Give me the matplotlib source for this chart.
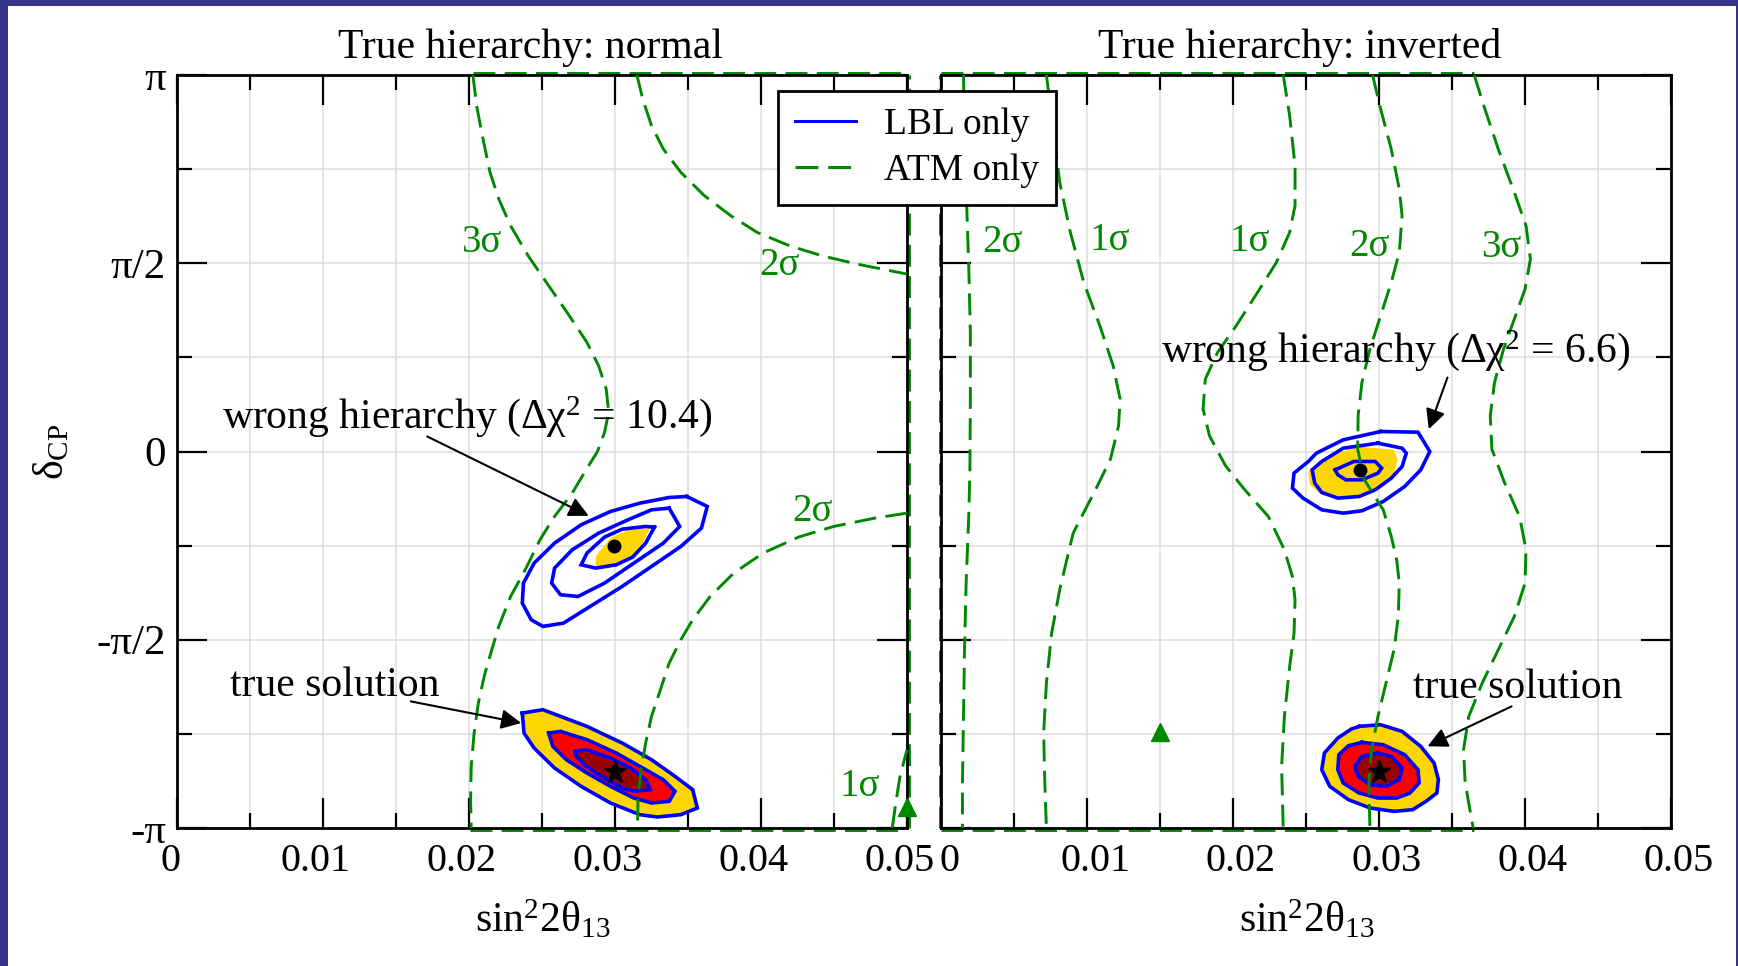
import numpy as np
import matplotlib
matplotlib.use('Agg')
import matplotlib.pyplot as plt
from matplotlib.transforms import ScaledTranslation
from matplotlib.lines import Line2D
from matplotlib.patches import Rectangle

plt.rcParams['font.family'] = ['Liberation Serif', 'DejaVu Serif']
plt.rcParams['mathtext.fontset'] = 'custom'
plt.rcParams['mathtext.rm'] = 'Liberation Serif'
plt.rcParams['mathtext.it'] = 'Liberation Serif:italic'
plt.rcParams['mathtext.bf'] = 'Liberation Serif:bold'

# ---------------- data ----------------
x_ticks = [0, 0.01, 0.02, 0.03, 0.04, 0.05]
x_ticklabels = ['0', '0.01', '0.02', '0.03', '0.04', '0.05']
x_minor = [0.005, 0.015, 0.025, 0.035, 0.045]
y_ticks = [-1, -0.5, 0, 0.5, 1]          # delta_CP in units of pi
y_ticklabels = ['-π', '-π/2', '0', 'π/2', 'π']
y_minor = [-0.75, -0.25, 0.25, 0.75]
titles = ['True hierarchy: normal', 'True hierarchy: inverted']

# ---- normal hierarchy: ATM only (green dashed) ----
nh_atm3_x = [0.02027, 0.02052, 0.02096, 0.02144, 0.02204, 0.02285, 0.02405, 0.02546, 0.02687, 0.02808,
             0.02888, 0.02940, 0.02957, 0.02928, 0.02880, 0.02788, 0.02707, 0.02586, 0.02486, 0.02385,
             0.02285, 0.02204, 0.02156, 0.02104, 0.02064, 0.02035, 0.02015, 0.02011, 0.02015]
nh_atm3_y = [1.0, 0.9185, 0.8299, 0.7414, 0.6705, 0.5996, 0.5199, 0.4402, 0.3605, 0.2896,
             0.2276, 0.1656, 0.1036, 0.0505, 0.0, -0.0575, -0.1106, -0.1726, -0.2345, -0.3142,
             -0.3850, -0.4646, -0.5265, -0.5973, -0.6681, -0.7478, -0.8363, -0.9248, -1.0]
nh_atm2a_x = [0.03150, 0.03190, 0.03250, 0.03331, 0.03451, 0.03612, 0.03793, 0.03974, 0.04195, 0.04417, 0.04658, 0.05]
nh_atm2a_y = [1.0, 0.9362, 0.8654, 0.8034, 0.7414, 0.6794, 0.6262, 0.5819, 0.5465, 0.5199, 0.4978, 0.4712]
nh_atm2b_x = [0.05, 0.04779, 0.04497, 0.04256, 0.04014, 0.03813, 0.03652, 0.03532, 0.03451, 0.03371,
              0.03311, 0.03250, 0.03210, 0.03178, 0.03158, 0.03154]
nh_atm2b_y = [-0.1637, -0.1770, -0.1991, -0.2274, -0.2699, -0.3230, -0.3850, -0.4469, -0.5, -0.5619,
              -0.6327, -0.7035, -0.7743, -0.8451, -0.9159, -1.0]
nh_atm1_x = [0.04899, 0.04923, 0.04952, 0.05]
nh_atm1_y = [-1.0, -0.9336, -0.8628, -0.792]
nh_edge_top = [0.0203, 0.05]
nh_edge_bottom = [0.0201, 0.05]
nh_atm_best = (0.05, -0.945)

# ---- normal hierarchy: LBL only (blue) and combined (filled) ----
nh_wr_out_x = [0.03492, 0.03632, 0.03592, 0.03451, 0.03250, 0.03049, 0.02848, 0.02647, 0.02506,
               0.02426, 0.02365, 0.02373, 0.02446, 0.02586, 0.02768, 0.02969, 0.03170, 0.03371]
nh_wr_out_y = [-0.1195, -0.1460, -0.2035, -0.2522, -0.3053, -0.3584, -0.4071, -0.4558, -0.4646,
               -0.4469, -0.4027, -0.3496, -0.2965, -0.2434, -0.1947, -0.1593, -0.1372, -0.1221]
nh_wr_mid_x = [0.03371, 0.03443, 0.03331, 0.03129, 0.02928, 0.02747, 0.02627, 0.02566, 0.02586,
               0.02707, 0.02888, 0.03089, 0.03250]
nh_wr_mid_y = [-0.1504, -0.1991, -0.2434, -0.2965, -0.3496, -0.3850, -0.3805, -0.3496, -0.3097,
               -0.2611, -0.2168, -0.1814, -0.1549]
nh_wr_in_x = [0.03270, 0.03210, 0.03121, 0.03009, 0.02868, 0.02768, 0.02808, 0.02928, 0.03049, 0.03210]
nh_wr_in_y = [-0.2009, -0.2434, -0.2805, -0.3009, -0.3097, -0.3009, -0.2699, -0.2274, -0.2062, -0.1991]
nh_wr_fill_x = [0.03242, 0.03178, 0.03109, 0.03009, 0.02868, 0.02868, 0.02969, 0.03089]
nh_wr_fill_y = [-0.2035, -0.2522, -0.2805, -0.2991, -0.3071, -0.2788, -0.2301, -0.2080]
nh_tr_out_x = [0.02365, 0.02506, 0.02808, 0.03049, 0.03250, 0.03411, 0.03532, 0.03564, 0.03451,
               0.03290, 0.03170, 0.02969, 0.02768, 0.02586, 0.02446, 0.02377]
nh_tr_out_y = [-0.6947, -0.6858, -0.7301, -0.7743, -0.8186, -0.8628, -0.8982, -0.9469, -0.9646,
               -0.9708, -0.9646, -0.9336, -0.8894, -0.8407, -0.7876, -0.7478]
nh_tr_mid_x = [0.02546, 0.02627, 0.02808, 0.03009, 0.03190, 0.03331, 0.03411, 0.03371, 0.03250,
               0.03129, 0.02969, 0.02808, 0.02667, 0.02574]
nh_tr_mid_y = [-0.7478, -0.7434, -0.7655, -0.8009, -0.8407, -0.8717, -0.9027, -0.9292, -0.9336,
               -0.9204, -0.8894, -0.8540, -0.8186, -0.7832]
nh_tr_in_x = [0.02727, 0.02808, 0.02969, 0.03109, 0.03210, 0.03242, 0.03129, 0.03049, 0.02888, 0.02788, 0.02735]
nh_tr_in_y = [-0.7965, -0.7920, -0.8142, -0.8407, -0.8717, -0.8982, -0.9027, -0.8938, -0.8584, -0.8319, -0.8097]
nh_wrong_best = (0.0299, -0.252)
nh_true_best = (0.0300, -0.850)

# ---- inverted hierarchy: ATM only (green dashed) ----
ih_atm_a_x = [0.00154, 0.00161, 0.00176, 0.00190, 0.00201, 0.00201, 0.00198, 0.00190, 0.00172, 0.00161, 0.00154, 0.00147, 0.00147]
ih_atm_a_y = [1.0, 0.848, 0.653, 0.493, 0.316, 0.139, -0.05, -0.173, -0.350, -0.527, -0.704, -0.881, -1.0]
ih_atm_b_x = [0.00722, 0.00758, 0.00813, 0.00886, 0.00978, 0.01088, 0.01179, 0.01227, 0.01216, 0.01161,
              0.01060, 0.00905, 0.00813, 0.00758, 0.00722, 0.00703, 0.00711, 0.00722]
ih_atm_b_y = [1.0, 0.892, 0.715, 0.582, 0.449, 0.334, 0.228, 0.139, 0.068, -0.020,
              -0.100, -0.217, -0.367, -0.482, -0.615, -0.748, -0.880, -1.0]
ih_atm_c_x = [0.02344, 0.02388, 0.02425, 0.02425, 0.02388, 0.02297, 0.02168, 0.02022, 0.01894, 0.01810,
              0.01795, 0.01839, 0.01949, 0.02077, 0.02242, 0.02352, 0.02407, 0.02425, 0.02418, 0.02388,
              0.02352, 0.02333, 0.02344]
ih_atm_c_y = [1.0, 0.892, 0.759, 0.653, 0.582, 0.502, 0.4225, 0.334, 0.263, 0.192,
              0.1125, 0.0416, -0.038, -0.100, -0.1726, -0.261, -0.332, -0.394, -0.483, -0.571,
              -0.7035, -0.836, -1.0]
ih_atm_d_x = [0.02956, 0.03011, 0.03084, 0.03139, 0.03158, 0.03139, 0.03084, 0.03011, 0.02938, 0.02883,
              0.02857, 0.02854, 0.02900, 0.03029, 0.03084, 0.03121, 0.03139, 0.03132, 0.03103, 0.03048,
              0.02993, 0.02949, 0.02930, 0.02938]
ih_atm_d_y = [1.0, 0.910, 0.803, 0.697, 0.626, 0.529, 0.449, 0.3605, 0.272, 0.1833,
              0.0948, 0.006, -0.075, -0.155, -0.2257, -0.2876, -0.3496, -0.438, -0.5265, -0.615,
              -0.7035, -0.792, -0.8805, -1.0]
ih_atm_e_x = [0.03652, 0.03725, 0.03817, 0.03927, 0.04007, 0.04037, 0.04000, 0.03927, 0.03853, 0.03791,
              0.03762, 0.03773, 0.03860, 0.03963, 0.04007, 0.04000, 0.03927, 0.03817, 0.03707, 0.03615,
              0.03579, 0.03590, 0.03645]
ih_atm_e_y = [1.0, 0.910, 0.803, 0.688, 0.600, 0.511, 0.431, 0.352, 0.272, 0.183,
              0.095, 0.006, -0.083, -0.173, -0.261, -0.350, -0.438, -0.5265, -0.615, -0.7035,
              -0.792, -0.880, -1.0]
ih_edge_top = [0.0, 0.0365]
ih_edge_bottom = [0.0, 0.0365]
ih_atm_best = (0.0150, -0.745)

# ---- inverted hierarchy: LBL only (blue) and combined (filled) ----
ih_wr_out_x = [0.03011, 0.03267, 0.03348, 0.03286, 0.03176, 0.03029, 0.02883, 0.02755, 0.02608, 0.02480,
               0.02407, 0.02418, 0.02516, 0.02571, 0.02755]
ih_wr_out_y = [0.0531, 0.0513, 0.0, -0.0487, -0.0929, -0.1327, -0.1575, -0.1637, -0.1549, -0.1239,
               -0.0973, -0.0575, -0.0265, -0.0044, 0.031]
ih_wr_mid_x = [0.02993, 0.03158, 0.03187, 0.03158, 0.03084, 0.02974, 0.02864, 0.02718, 0.02608, 0.02560,
               0.02542, 0.02608, 0.02755]
ih_wr_mid_y = [0.0221, 0.0088, -0.0044, -0.0398, -0.0708, -0.1018, -0.1195, -0.1239, -0.1088, -0.0841,
               -0.0487, -0.0265, 0.0088]
ih_wr_in_x = [0.02700, 0.02828, 0.02974, 0.03018, 0.02993, 0.02883, 0.02773, 0.02718]
ih_wr_in_y = [-0.0487, -0.0265, -0.0265, -0.0442, -0.0575, -0.0752, -0.0752, -0.0619]
ih_wr_fill_x = [0.02864, 0.03103, 0.03128, 0.03103, 0.03011, 0.02901, 0.02755, 0.02608, 0.02527, 0.02516, 0.02590, 0.02718]
ih_wr_fill_y = [0.0133, 0.0044, -0.0221, -0.0575, -0.0885, -0.1150, -0.1265, -0.1150, -0.0885, -0.0531, -0.0265, -0.0044]
ih_tr_out_x = [0.02864, 0.03011, 0.03158, 0.03286, 0.03377, 0.03407, 0.03396, 0.03322, 0.03231, 0.03103,
               0.02938, 0.02791, 0.02663, 0.02608, 0.02626, 0.02718, 0.02810]
ih_tr_out_y = [-0.7301, -0.7257, -0.7434, -0.7832, -0.8274, -0.8717, -0.9071, -0.9292, -0.9513, -0.9558,
               -0.9469, -0.9248, -0.8894, -0.8451, -0.8009, -0.7611, -0.7372]
ih_tr_mid_x = [0.02883, 0.03029, 0.03176, 0.03267, 0.03275, 0.03212, 0.03121, 0.02993, 0.02864, 0.02755,
               0.02718, 0.02725, 0.02791]
ih_tr_mid_y = [-0.7726, -0.7788, -0.8053, -0.8451, -0.8805, -0.9071, -0.9204, -0.9204, -0.9071, -0.8805,
               -0.8451, -0.8053, -0.7814]
ih_tr_in_x = [0.02993, 0.03084, 0.03158, 0.03139, 0.03048, 0.02938, 0.02857, 0.02835, 0.02883]
ih_tr_in_y = [-0.8009, -0.8097, -0.8407, -0.8717, -0.8894, -0.8850, -0.8628, -0.8363, -0.8097]
ih_wrong_best = (0.0287, -0.050)
ih_true_best = (0.0300, -0.851)

# ---- contour labels ----
nh_sigma_labels = [('3σ', 0.02084, 0.555), ('2σ', 0.04127, 0.493), ('2σ', 0.04356, -0.159), ('1σ', 0.04678, -0.889)]
ih_sigma_labels = [('2σ', 0.00421, 0.555), ('1σ', 0.01154, 0.560), ('1σ', 0.02114, 0.557),
                   ('2σ', 0.02938, 0.545), ('3σ', 0.03835, 0.542)]

# ---- annotations: (text, text_x, text_baseline_y, arrow_start, arrow_tip) ----
nh_notes = [('wrong hierarchy (Δχ$^{2}$ = 10.4)', 0.00306, 0.062, (0.01714, 0.0399), (0.0282, -0.1708)),
            ('true solution', 0.00362, -0.650, (0.01601, -0.6637), (0.02357, -0.7212))]
ih_notes = [('wrong hierarchy (Δχ$^{2}$ = 6.6)', 0.01509, 0.2365, (0.03469, 0.1966), (0.03341, 0.0593)),
            ('true solution', 0.03231, -0.6549, (0.03908, -0.677), (0.03333, -0.783))]

# ---------------- style ----------------
BLUE = '#0000ff'
GREEN = '#008800'
YELLOW = '#ffd700'
RED = '#ff0000'
DRED = '#9a0000'
FRAME = '#36348a'
DASH = (7.5, 3.2)
GLW = 2.1
BLW = 2.6

W, H = 1738, 966
fig = plt.figure(figsize=(W / 100, H / 100), dpi=100)

# outer dark-blue frame
fig.add_artist(Rectangle((0, 1 - 6 / H), 1, 6 / H, transform=fig.transFigure, color=FRAME, lw=0, zorder=0))
fig.add_artist(Rectangle((0, 0), 8 / W, 1, transform=fig.transFigure, color=FRAME, lw=0, zorder=0))
fig.add_artist(Rectangle((1 - 2 / W, 0), 2 / W, 1, transform=fig.transFigure, color=FRAME, lw=0, zorder=0))

axL = fig.add_axes([177 / W, 138 / H, 730 / W, 753 / H])
axR = fig.add_axes([941 / W, 138 / H, 730 / W, 753 / H])


def px(dx, dy):
    return ScaledTranslation(dx / 100, dy / 100, fig.dpi_scale_trans)


def style(ax, show_ylabels, label_dx):
    ax.set_xlim(0, 0.05)
    ax.set_ylim(-1, 1)
    ax.set_xticks(x_ticks)
    ax.set_xticklabels(x_ticklabels)
    ax.set_xticks(x_minor, minor=True)
    ax.set_yticks(y_ticks)
    ax.set_yticklabels(y_ticklabels if show_ylabels else [])
    ax.set_yticks(y_minor, minor=True)
    ax.tick_params(which='both', direction='in', top=True, right=True, width=1.6, color='black')
    ax.tick_params(which='major', length=21.6)
    ax.tick_params(which='minor', length=10.8)
    ax.tick_params(axis='x', which='major', pad=11, labelsize=29)
    ax.tick_params(axis='y', which='major', pad=8, labelsize=31)
    ax.grid(True, which='both', color='#dcdcdc', lw=1.1)
    ax.set_axisbelow(True)
    for s in ax.spines.values():
        s.set_linewidth(2.0)
        s.set_zorder(2.5)
    for lab in ax.get_xticklabels():
        lab.set_transform(lab.get_transform() + px(label_dx, 0))


style(axL, True, -7)
style(axR, False, 8)


def green(ax, x, y, trans=None):
    kw = dict(color=GREEN, lw=GLW, dashes=DASH, zorder=4, clip_on=False)
    if trans is not None:
        kw['transform'] = trans
        kw['zorder'] = 2.4
    ax.plot(x, y, **kw)


def blob(ax, x, y, fill=None, line=True):
    if fill is not None:
        ax.fill(x, y, color=fill, lw=0, zorder=2)
    if line:
        ax.plot(list(x) + [x[0]], list(y) + [y[0]], color=BLUE, lw=BLW, zorder=3, solid_joinstyle='miter')


# ---- left panel ----
blob(axL, nh_wr_fill_x, nh_wr_fill_y, fill=YELLOW, line=False)
blob(axL, nh_wr_out_x, nh_wr_out_y)
blob(axL, nh_wr_mid_x, nh_wr_mid_y)
blob(axL, nh_wr_in_x, nh_wr_in_y)
blob(axL, nh_tr_out_x, nh_tr_out_y, fill=YELLOW)
blob(axL, nh_tr_mid_x, nh_tr_mid_y, fill=RED)
blob(axL, nh_tr_in_x, nh_tr_in_y, fill=DRED)

green(axL, nh_atm3_x, nh_atm3_y)
green(axL, nh_atm2a_x, nh_atm2a_y)
green(axL, nh_atm2b_x, nh_atm2b_y)
green(axL, nh_atm1_x, nh_atm1_y)
green(axL, nh_edge_top, [1, 1], axL.transData + px(0, 2))
green(axL, nh_edge_bottom, [-1, -1], axL.transData + px(0, -2))
green(axL, [0.05, 0.05], [-1, 1], axL.transData + px(1.5, 0))

axL.plot(*nh_atm_best, marker='^', ms=13, color=GREEN, ls='none', zorder=6, clip_on=False)
axL.plot(*nh_wrong_best, marker='o', ms=9, color='black', ls='none', zorder=6)
axL.plot(*nh_true_best, marker='*', ms=17, color='black', ls='none', zorder=6)

# ---- right panel ----
blob(axR, ih_wr_fill_x, ih_wr_fill_y, fill=YELLOW, line=False)
blob(axR, ih_wr_out_x, ih_wr_out_y)
blob(axR, ih_wr_mid_x, ih_wr_mid_y)
blob(axR, ih_wr_in_x, ih_wr_in_y)
blob(axR, ih_tr_out_x, ih_tr_out_y, fill=YELLOW)
blob(axR, ih_tr_mid_x, ih_tr_mid_y, fill=RED)
blob(axR, ih_tr_in_x, ih_tr_in_y, fill=DRED)

for gx, gy in [(ih_atm_a_x, ih_atm_a_y), (ih_atm_b_x, ih_atm_b_y), (ih_atm_c_x, ih_atm_c_y),
               (ih_atm_d_x, ih_atm_d_y), (ih_atm_e_x, ih_atm_e_y)]:
    green(axR, gx, gy)
green(axR, ih_edge_top, [1, 1], axR.transData + px(0, 2))
green(axR, ih_edge_bottom, [-1, -1], axR.transData + px(0, -2))
green(axR, [0, 0], [-1, 1], axR.transData + px(-1.5, 0))

axR.plot(*ih_atm_best, marker='^', ms=13, color=GREEN, ls='none', zorder=6)
axR.plot(*ih_wrong_best, marker='o', ms=9, color='black', ls='none', zorder=6)
axR.plot(*ih_true_best, marker='*', ms=17, color='black', ls='none', zorder=6)

# ---- labels on both panels ----
for ax, sig, notes in [(axL, nh_sigma_labels, nh_notes), (axR, ih_sigma_labels, ih_notes)]:
    for s, sx, sy in sig:
        ax.text(sx, sy, s, color=GREEN, fontsize=28, ha='center', va='center', zorder=5)
    for txt, tx, ty, start, tip in notes:
        ax.text(tx, ty, txt, fontsize=30, ha='left', va='baseline', zorder=7)
        ax.annotate('', xy=tip, xytext=start, zorder=7,
                    arrowprops=dict(arrowstyle='-|>', color='black', lw=1.5, mutation_scale=30,
                                    shrinkA=0, shrinkB=0))

fig.text(531 / W, 1 - 58 / H, titles[0], fontsize=30, ha='center', va='baseline')
fig.text(1300 / W, 1 - 58 / H, titles[1], fontsize=30, ha='center', va='baseline')
fig.text(543 / W, 1 - 932 / H, r'sin$^{2}$2θ$_{13}$', fontsize=30, ha='center', va='baseline')
fig.text(1307 / W, 1 - 932 / H, r'sin$^{2}$2θ$_{13}$', fontsize=30, ha='center', va='baseline')
fig.text(52 / W, 1 - 452 / H, r'δ$_{\mathrm{CP}}$', fontsize=30, rotation=90, ha='center', va='center')

handles = [Line2D([], [], color=BLUE, lw=2.2), Line2D([], [], color=GREEN, lw=2.2, dashes=DASH)]
leg = fig.legend(handles, ['LBL only', 'ATM only'], loc='upper left',
                 bbox_to_anchor=(778 / W, 1 - 91 / H), bbox_transform=fig.transFigure,
                 frameon=True, fancybox=False, edgecolor='black', framealpha=1, fontsize=27,
                 handlelength=1.63, handletextpad=0.75, borderpad=0.45, labelspacing=0.3,
                 borderaxespad=0)
leg.get_frame().set_linewidth(2)
leg.set_zorder(10)

fig.savefig('out.png', dpi=100)
